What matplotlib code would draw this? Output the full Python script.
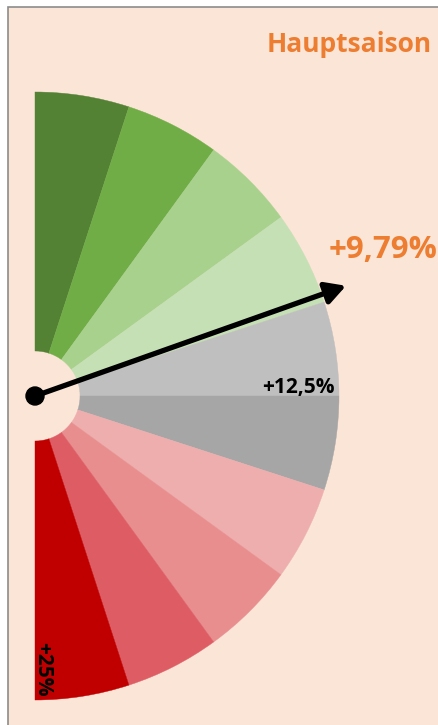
import numpy as np
import matplotlib
matplotlib.use("Agg")
import matplotlib.pyplot as plt
from matplotlib.patches import Wedge, Circle, Rectangle

# ---- data ----
band_edges = [0, 2.5, 5, 7.5, 10, 12.5, 15, 17.5, 20, 22.5, 25]
band_colors = ["#548235", "#70AD47", "#A9D18E", "#C5E0B4", "#BFBFBF",
               "#A6A6A6", "#EEAEAE", "#E88E8E", "#DE5D65", "#C00000"]
scale_max = 25.0
current_value = 9.79
title = "Hauptsaison"
value_label = "+9,79%"
mid_label = "+12,5%"
max_label = "+25%"

W, H = 439, 725
fig = plt.figure(figsize=(W / 100, H / 100), dpi=100, facecolor="white")
ax = fig.add_axes([0, 0, 1, 1])
ax.set_xlim(0, W)
ax.set_ylim(0, H)
ax.set_aspect("equal")
ax.axis("off")

FONT = ["Open Sans", "DejaVu Sans"]
peach = "#FBE5D6"
orange = "#ED7D31"

# background panel with border (only left/top visible)
ax.add_patch(Rectangle((8, -10), W + 20, H - 7 + 10, facecolor=peach,
                       edgecolor="#8C8C8C", lw=1.2, zorder=0))

cx, cy = 35, 329
r_out, r_in = 304, 45


def ang(v):
    return 90 - v / scale_max * 180


for i, col in enumerate(band_colors):
    a1 = ang(band_edges[i + 1])
    a2 = ang(band_edges[i])
    ax.add_patch(Wedge((cx, cy), r_out, a1, a2, width=r_out - r_in,
                       facecolor=col, edgecolor=col, lw=0.3, zorder=2))

# labels on the scale
ax.text(cx + r_out - 4, cy + 3, mid_label, ha="right", va="baseline",
        fontsize=15, fontweight="bold", color="black", family=FONT, zorder=4)
ax.text(cx + 2, cy - r_out + 4, max_label, ha="right", va="baseline",
        rotation=-90, rotation_mode="anchor",
        fontsize=15, fontweight="bold", color="black", family=FONT, zorder=4)

# needle
a = np.deg2rad(ang(current_value))
r_tip = 330
tip = (cx + r_tip * np.cos(a), cy + r_tip * np.sin(a))
ax.annotate("", xy=tip, xytext=(cx, cy),
            arrowprops=dict(arrowstyle="-|>,head_length=0.6,head_width=0.33",
                            lw=3.8, color="black",
                            mutation_scale=20, shrinkA=0, shrinkB=0),
            zorder=5)
ax.add_patch(Circle((cx, cy), 9, color="black", zorder=6))

ax.text(329, H - 258, value_label, ha="left", va="baseline",
        fontsize=22.5, fontweight="bold", color=orange, family=FONT, zorder=4)

ax.text(432, H - 52, title, ha="right", va="baseline",
        fontsize=19, fontweight="bold", color=orange, family=FONT, zorder=4)

fig.savefig("out.png", dpi=100, facecolor="white")
